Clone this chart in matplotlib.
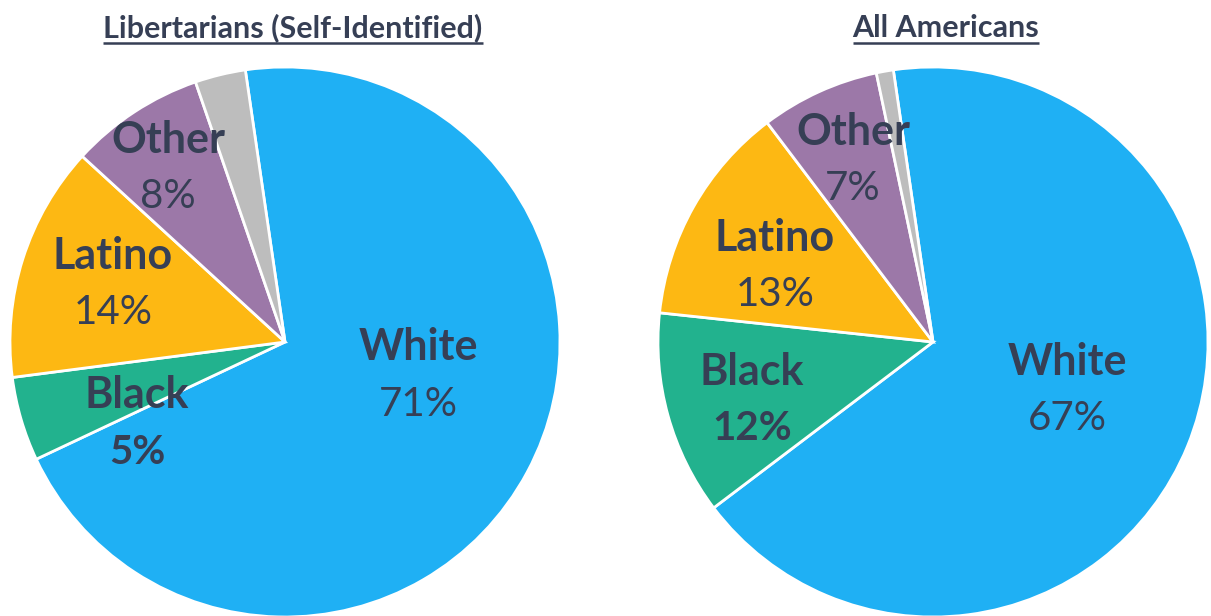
import numpy as np
import matplotlib.pyplot as plt

plt.rcParams['font.family'] = ['Lato', 'DejaVu Sans']

# data
groups = ["White", "Black", "Latino", "Other", ""]
libertarians = [71, 5, 14, 8, 3]
americans = [67, 12, 13, 7, 1]
titles = ["Libertarians (Self-Identified)", "All Americans"]
colors = ["#1FB0F4", "#22B28E", "#FDB813", "#9C78A8", "#BDBDBD"]
txt = "#363F55"

W, H = 1211, 616
fig = plt.figure(figsize=(W / 100, H / 100), dpi=100)
ax = fig.add_axes([0, 0, 1, 1])
ax.axis('off')

R = 275
centers = [(285, H - 342), (933, H - 342)]

# label positions in pixels (x, y from top)
lab_pos = [
    {"White": (418, 347), "Black": (137, 395), "Latino": (113, 256), "Other": (168, 140)},
    {"White": (1067, 362), "Black": (752, 372), "Latino": (775, 238), "Other": (853, 132)},
]
bold_pct = {"Black"}

for k, vals in enumerate([libertarians, americans]):
    cx, cy = centers[k]
    ax.pie(vals, colors=colors, startangle=98.3, counterclock=False,
           center=(cx, cy), radius=R,
           wedgeprops=dict(edgecolor="white", linewidth=2))

# fix the axes to pixel units after the pies
ax.set_xlim(0, W)
ax.set_ylim(0, H)
ax.set_aspect('equal')

for k, vals in enumerate([libertarians, americans]):
    for name, v in zip(groups, vals):
        if not name:
            continue
        x, y = lab_pos[k][name]
        ax.text(x, H - y, name, ha="center", va="center", fontsize=31,
                fontweight="bold", color=txt)
        ax.text(x, H - y - 57, f"{v}%", ha="center", va="center", fontsize=29,
                fontweight="bold" if name in bold_pct else "normal", color=txt)

# titles with underline
title_x = [293, 946]
fig.canvas.draw()
r = fig.canvas.get_renderer()
for k, t in enumerate(titles):
    tt = ax.text(title_x[k], H - 28, t, ha="center", va="center", fontsize=22,
                 fontweight="bold", color=txt)
    bb = tt.get_window_extent(renderer=r)
    ax.plot([bb.x0, bb.x1], [H - 43, H - 43], color=txt, lw=1.8,
            solid_capstyle="butt")

ax.set_xlim(0, W)
ax.set_ylim(0, H)
fig.savefig("out.png", dpi=100)
